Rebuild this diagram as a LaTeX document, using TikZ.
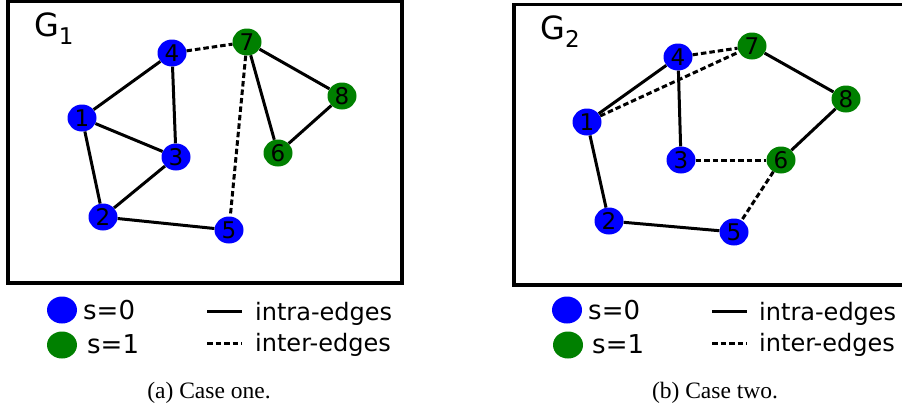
\documentclass[tikz,border=0pt]{standalone}
\usepackage{fontspec}
\setmainfont{Liberation Serif}
\newfontfamily\dv{DejaVu Sans}
\usetikzlibrary{shapes.geometric}
\begin{document}
\begin{tikzpicture}[x=1pt,y=-1pt,
  vtx/.style={ellipse, minimum width=29pt, minimum height=27pt, inner sep=0pt,
    font=\dv\fontsize{23}{23}\selectfont, text=black},
  sz/.style={vtx, fill=blue},
  so/.style={vtx, fill=green!50!black},
  intra/.style={line width=3pt},
  inter/.style={line width=3pt, dash pattern=on 5.5pt off 3pt},
  frame/.style={line width=3.5pt},
  leg/.style={font=\dv\fontsize{24}{24}\selectfont, anchor=base west, inner sep=0pt},
  sleg/.style={font=\dv\fontsize{26}{26}\selectfont, anchor=base west, inner sep=0pt},
  glabel/.style={font=\dv\fontsize{32}{32}\selectfont, anchor=base west, inner sep=0pt},
  captext/.style={font=\fontsize{23.5}{23.5}\selectfont, anchor=base, inner sep=0pt},
  legdot/.style={ellipse, minimum width=30pt, minimum height=27pt, inner sep=0pt}
]
\useasboundingbox (0,0) rectangle (902,408);
\clip (0,0) rectangle (902,408);

% ---------- panel (a) ----------
\draw[frame] (8,1.5) rectangle (402,283);
\node[glabel] (g1) at (34,36) {G\raisebox{-8pt}{\fontsize{23}{23}\selectfont 1}};

\node[sz] (a1) at (82,118) {1};
\node[sz] (a2) at (103,217) {2};
\node[sz] (a3) at (176,157) {3};
\node[sz] (a4) at (172,53) {4};
\node[sz] (a5) at (229,230) {5};
\node[so] (a6) at (278,153) {6};
\node[so] (a7) at (247,42) {7};
\node[so] (a8) at (342,96) {8};

\draw[intra] (a1) -- (a4);
\draw[intra] (a4) -- (a3);
\draw[intra] (a1) -- (a3);
\draw[intra] (a1) -- (a2);
\draw[intra] (a2) -- (a3);
\draw[intra] (a2) -- (a5);
\draw[intra] (a7) -- (a8);
\draw[intra] (a7) -- (a6);
\draw[intra] (a6) -- (a8);
\draw[inter] (a4) -- (a7);
\draw[inter] (a7) -- (a5);

% legend (a)
\node[legdot, fill=blue] (la0) at (62,310) {};
\node[sleg] (lt0) at (83,319) {s=0};
\node[legdot, fill=green!50!black] (la1) at (62,345) {};
\node[sleg] (lt1) at (87,353) {s=1};
\coordinate (ls1) at (207,311);
\coordinate (ls2) at (242,311);
\draw[intra] (ls1) -- (ls2);
\node[leg] (lti) at (255,320) {intra-edges};
\coordinate (ld1) at (207,343);
\coordinate (ld2) at (242,343);
\draw[inter] (ld1) -- (ld2);
\node[leg] (lte) at (255,351) {inter-edges};
\node[captext] (capa) at (209,398) {(a) Case one.};

% ---------- panel (b) ----------
\draw[frame] (910,4.5) -- (514,4.5) -- (514,285) -- (910,285);
\node[glabel] (g2) at (540,39) {G\raisebox{-8pt}{\fontsize{23}{23}\selectfont 2}};

\node[sz] (b1) at (587,122) {1};
\node[sz] (b2) at (609,221) {2};
\node[sz] (b3) at (681,160) {3};
\node[sz] (b4) at (678,57) {4};
\node[sz] (b5) at (734,232) {5};
\node[so] (b6) at (781,160) {6};
\node[so] (b7) at (752,46) {7};
\node[so] (b8) at (846,99) {8};

\draw[intra] (b1) -- (b4);
\draw[intra] (b4) -- (b3);
\draw[intra] (b1) -- (b2);
\draw[intra] (b2) -- (b5);
\draw[intra] (b7) -- (b8);
\draw[intra] (b8) -- (b6);
\draw[inter] (b4) -- (b7);
\draw[inter] (b1) -- (b7);
\draw[inter] (b3) -- (b6);
\draw[inter] (b6) -- (b5);

% legend (b)
\node[legdot, fill=blue] (lb0) at (567,310) {};
\node[sleg] (ltb0) at (588,319) {s=0};
\node[legdot, fill=green!50!black] (lb1) at (568,345) {};
\node[sleg] (ltb1) at (592,353) {s=1};
\coordinate (lbs1) at (712,311);
\coordinate (lbs2) at (747,311);
\draw[intra] (lbs1) -- (lbs2);
\node[leg] (ltbi) at (759,320) {intra-edges};
\coordinate (lbd1) at (712,343);
\coordinate (lbd2) at (747,343);
\draw[inter] (lbd1) -- (lbd2);
\node[leg] (ltbe) at (759,351) {inter-edges};
\node[captext] (capb) at (715,398) {(b) Case two.};
\end{tikzpicture}
\end{document}
